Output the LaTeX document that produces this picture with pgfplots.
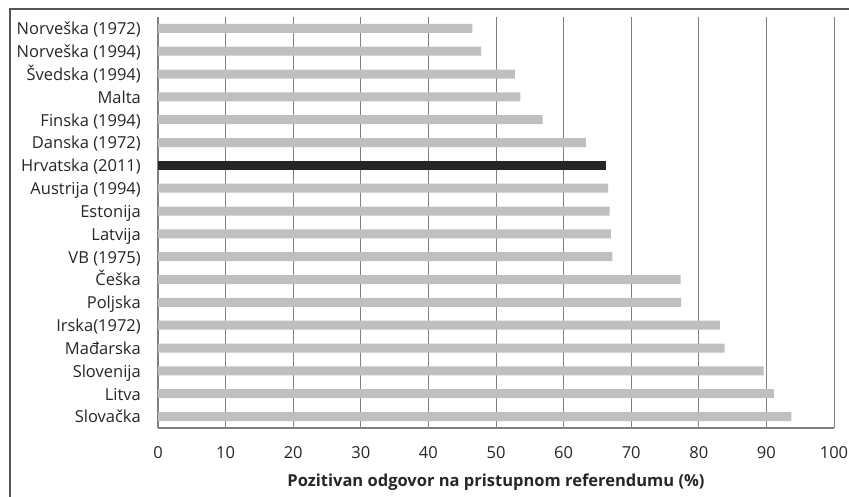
\documentclass[border=0pt]{standalone}
\usepackage{pgfplots}
\pgfplotsset{compat=1.18}
\usepackage{fontspec}
\setmainfont{Open Sans}

\definecolor{bargray}{RGB}{191,191,191}
\definecolor{bardark}{RGB}{38,38,38}
\definecolor{gridgray}{RGB}{128,128,128}
\definecolor{framegray}{RGB}{85,85,85}

\begin{document}
\begin{tikzpicture}[x=1bp,y=1bp]
  \useasboundingbox (0,0) rectangle (849,497);
  % outer frame (only left and top edges are visible)
  \draw[line width=1.6bp, framegray] (10,-2) -- (10,488) -- (851,488);

  \begin{axis}[
      at={(158bp,69bp)}, anchor=south west,
      scale only axis,
      width=676bp, height=411bp,
      xmin=0, xmax=100,
      ymin=-0.5, ymax=17.5,
      xbar, bar width=9bp, bar shift=0pt,
      xtick={0,10,...,100},
      ytick={0,...,17},
      yticklabels={Slovačka, Litva, Slovenija, Mađarska, Irska(1972), Poljska,
        Češka, VB (1975), Latvija, Estonija, Austrija (1994), Hrvatska (2011),
        Danska (1972), Finska (1994), Malta, Švedska (1994), Norveška (1994),
        Norveška (1972)},
      major tick length=0pt,
      axis x line*=bottom, axis y line*=left,
      axis line style={gridgray, line width=1.4bp, -},
      xmajorgrids,
      grid style={gridgray, line width=1bp},
      /pgf/number format/assume math mode=true,
      tick label style={font=\fontsize{16.5bp}{19bp}\selectfont, text=black!85},
      x tick label style={anchor=base, yshift=-31bp},
      y tick label style={anchor=base east, inner sep=0pt, xshift=-17bp, yshift=-6.3bp},
      xlabel={\bfseries Pozitivan odgovor na pristupnom referendumu (\%)},
      xlabel style={font=\fontsize{16.5bp}{19bp}\selectfont, text=black!85,
        at={(axis description cs:0.5,0)}, anchor=base, yshift=-59bp},
    ]
    \addplot[draw=none, fill=bargray] coordinates {
      (46.5,17) (47.8,16) (52.8,15) (53.6,14) (56.9,13) (63.3,12)
      (66.6,10) (66.8,9) (67.0,8) (67.2,7) (77.3,6) (77.4,5)
      (83.1,4) (83.8,3) (89.6,2) (91.1,1) (93.7,0)
    };
    \addplot[draw=none, fill=bardark] coordinates {
      (66.3,11)
    };
  \end{axis}
\end{tikzpicture}
\end{document}
